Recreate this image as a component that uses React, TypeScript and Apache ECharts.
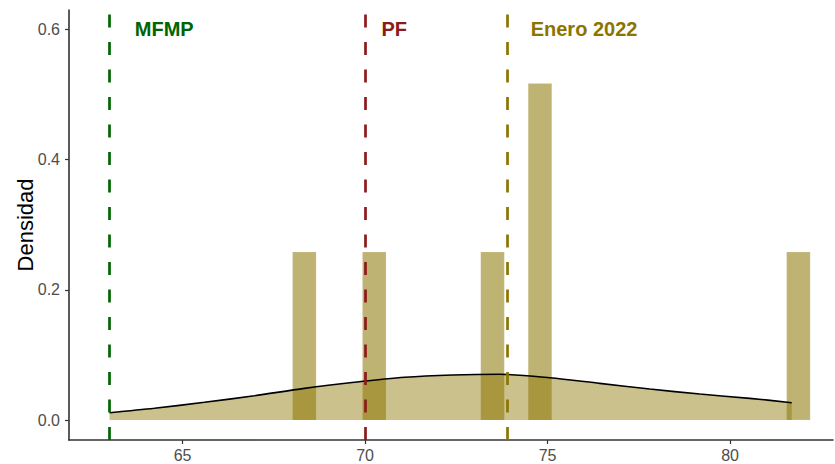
import React, { useEffect, useRef } from "react";
import * as echarts from "echarts";

// Histogram bins (left edge, right edge, density)
const binStarts = [68.015, 69.93, 73.17, 74.47, 81.55];
const binEnds = [68.66, 70.575, 73.815, 75.115, 82.195];
const binDensity = [0.258, 0.258, 0.258, 0.517, 0.258];

// Density curve
const densityX = [63.0, 64.23, 65.6, 66.97, 68.34, 69.71, 71.09, 72.4, 73.69, 75.06, 76.43, 77.8, 79.17, 80.54, 81.69];
const densityY = [0.0112, 0.018, 0.0272, 0.0373, 0.0486, 0.0579, 0.0656, 0.0691, 0.0702, 0.065, 0.0563, 0.0476, 0.0399, 0.0333, 0.0266];

// Reference lines
const refNames = ["MFMP", "PF", "Enero 2022"];
const refValues = [63.0, 70.0, 73.9];
const refColors = ["#006400", "#8B1A1A", "#8B7500"];
const refLabelX = [64.5, 70.8, 76.0];
const refLabelY = 0.6;

const xTicks = [65, 70, 75, 80];
const yTicks = [0, 0.2, 0.4, 0.6];

const FILL = "#8B7500";
const FONT = "'Liberation Sans', Arial, Helvetica, sans-serif";

export default function App() {
  const ref = useRef<HTMLDivElement>(null);
  useEffect(() => {
    if (!ref.current) return;
    const chart = echarts.init(ref.current, undefined, { renderer: "svg" });
    const bars = binStarts.map((s, i) => [s, binEnds[i], binDensity[i]]);
    const dens = densityX.map((x, i) => [x, densityY[i]]);
    const option: any = {
      animation: false,
      textStyle: { fontFamily: FONT },
      grid: { left: 69, top: 10, right: 2, bottom: 24, containLabel: false, outerBoundsMode: "none" },
      xAxis: {
        type: "value",
        min: 61.89,
        max: 82.82,
        splitLine: { show: false },
        axisLine: { onZero: false, lineStyle: { color: "#333333", width: 1.6 } },
        axisTick: { customValues: xTicks, length: 4, lineStyle: { color: "#333333", width: 1.2 } },
        axisLabel: {
          customValues: xTicks,
          color: "#4D4D4D",
          fontSize: 16,
          margin: 7,
          fontFamily: FONT,
        },
      },
      yAxis: {
        type: "value",
        min: -0.0307,
        max: 0.6298,
        name: "Densidad",
        nameLocation: "middle",
        nameGap: 33,
        nameMoveOverlap: false,
        nameTextStyle: { color: "#000000", fontSize: 22, fontFamily: FONT },
        splitLine: { show: false },
        axisLine: { show: true, onZero: false, lineStyle: { color: "#333333", width: 1.6 } },
        axisTick: { show: true, customValues: yTicks, length: 4, lineStyle: { color: "#333333", width: 1.2 } },
        axisLabel: {
          customValues: yTicks,
          color: "#4D4D4D",
          fontSize: 16,
          margin: 9,
          fontFamily: FONT,
          formatter: (v: number) => v.toFixed(1),
        },
      },
      series: [
        {
          type: "custom",
          z: 2,
          data: bars,
          encode: { x: [0, 1], y: 2 },
          renderItem: (params: any, api: any) => {
            const p0 = api.coord([api.value(0), api.value(2)]);
            const p1 = api.coord([api.value(1), 0]);
            return {
              type: "rect",
              shape: { x: p0[0], y: p0[1], width: p1[0] - p0[0], height: p1[1] - p0[1] },
              style: { fill: FILL, opacity: 0.55, stroke: "rgba(255,255,255,0.35)", lineWidth: 0.6 },
            };
          },
        },
        {
          type: "line",
          z: 3,
          data: dens,
          smooth: 0.3,
          symbol: "none",
          lineStyle: { color: "#000000", width: 1.6 },
          areaStyle: { color: FILL, opacity: 0.45, origin: 0 },
        },
        {
          type: "custom",
          z: 5,
          data: refLabelX.map((x, i) => [x, refLabelY, i]),
          encode: { x: 0, y: 1 },
          silent: true,
          renderItem: (params: any, api: any) => {
            const p = api.coord([api.value(0), api.value(1)]);
            const i = api.value(2);
            return {
              type: "text",
              x: p[0],
              y: p[1],
              style: {
                text: refNames[i],
                fill: refColors[i],
                font: `bold 20px ${FONT}`,
                align: "center",
                verticalAlign: "middle",
              },
            };
          },
          markLine: {
            silent: true,
            symbol: "none",
            label: { show: false },
            data: refValues.map((v, i) => ({
              xAxis: v,
              lineStyle: { color: refColors[i], type: [13, 14.5], width: 2.7, opacity: 1 },
            })),
          },
        },
      ],
    };
    chart.setOption(option);
    return () => chart.dispose();
  }, []);
  return (
    <div
      ref={ref}
      style={{ position: "fixed", left: 0, top: 0, width: 835, height: 464, background: "#ffffff" }}
    />
  );
}
